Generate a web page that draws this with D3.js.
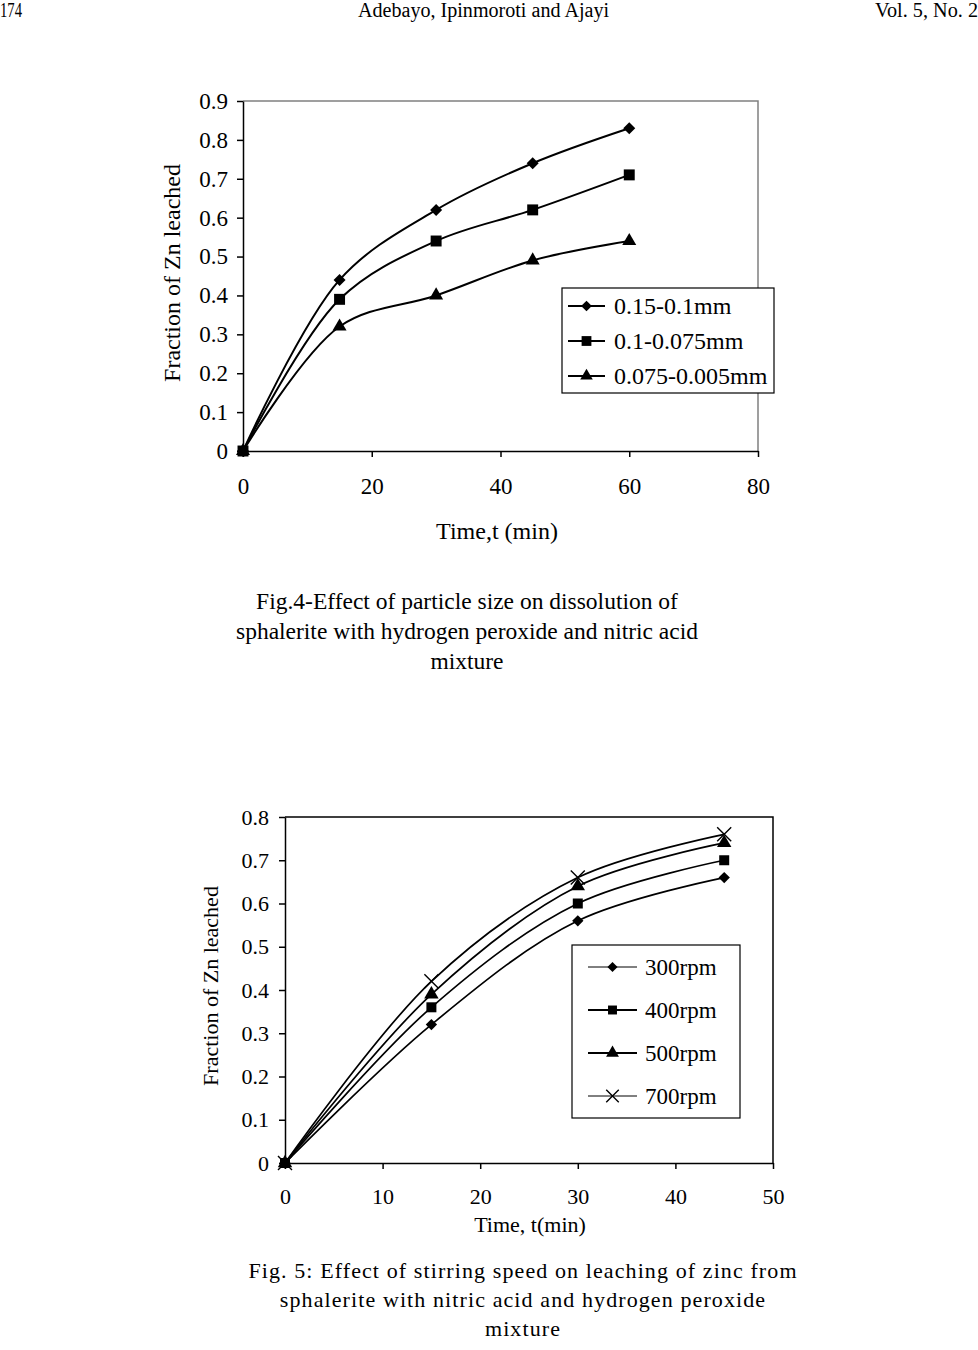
<!DOCTYPE html>
<html lang="en">
<head>
<meta charset="UTF-8">
<title>Zn leaching figures</title>
<style>
  body { margin: 0; background: #fff; }
  text { font-family: "Liberation Serif", "Times New Roman", serif; fill: #000; }
</style>
</head>
<body>
<div id="page"></div>
<script src="https://d3js.org/d3.v7.min.js"></script>
<script>
// Fig. 4 - particle size
const fig4Time = [0, 15, 30, 45, 60];
const fig4Names = ["0.15-0.1mm", "0.1-0.075mm", "0.075-0.005mm"];
const fig4Coarse = [0, 0.44, 0.62, 0.74, 0.83];
const fig4Medium = [0, 0.39, 0.54, 0.62, 0.71];
const fig4Fine = [0, 0.32, 0.40, 0.49, 0.54];
const fig4XTicks = ["0", "20", "40", "60", "80"];
const fig4YTicks = ["0", "0.1", "0.2", "0.3", "0.4", "0.5", "0.6", "0.7", "0.8", "0.9"];

// Fig. 5 - stirring speed
const fig5Time = [0, 15, 30, 45];
const fig5Names = ["300rpm", "400rpm", "500rpm", "700rpm"];
const fig5Rpm300 = [0, 0.32, 0.56, 0.66];
const fig5Rpm400 = [0, 0.36, 0.60, 0.70];
const fig5Rpm500 = [0, 0.39, 0.64, 0.74];
const fig5Rpm700 = [0, 0.42, 0.66, 0.76];
const fig5XTicks = ["0", "10", "20", "30", "40", "50"];
const fig5YTicks = ["0", "0.1", "0.2", "0.3", "0.4", "0.5", "0.6", "0.7", "0.8"];

const svg = d3.select("#page").append("svg")
    .attr("width", 978)
    .attr("height", 1350);

// running header
svg.append("text").attr("x", 0).attr("y", 17).style("font-size", "20px")
    .attr("textLength", 22).attr("lengthAdjust", "spacingAndGlyphs").text("174");
svg.append("text").attr("x", 358).attr("y", 17).style("font-size", "20px")
    .attr("textLength", 251).attr("lengthAdjust", "spacingAndGlyphs").text("Adebayo, Ipinmoroti and Ajayi");
svg.append("text").attr("x", 875).attr("y", 17).style("font-size", "20px")
    .attr("textLength", 103).attr("lengthAdjust", "spacingAndGlyphs").text("Vol. 5, No. 2");

function marker(g, type, cx, cy, size) {
    const sym = {
        diamond: d3.symbolSquare,
        square: d3.symbolSquare,
        triangle: d3.symbolTriangle,
        cross: d3.symbolX
    }[type];
    const rot = type === "diamond" ? " rotate(45)" : "";
    const p = g.append("path")
        .attr("transform", `translate(${cx},${cy})${rot}`)
        .attr("d", d3.symbol().type(sym).size(size)());
    if (type === "cross") p.attr("fill", "none").attr("stroke", "#000").attr("stroke-width", 1.4);
    else p.attr("fill", "#000");
}

function drawChart(cfg) {
    const g = svg.append("g");
    const xVals = cfg.xTicks.map(Number);
    const yVals = cfg.yTicks.map(Number);
    const x = d3.scaleLinear().domain([0, d3.max(xVals)]).range([cfg.left, cfg.right]);
    const y = d3.scaleLinear().domain([0, d3.max(yVals)]).range([cfg.bottom, cfg.top]);

    // top / right frame
    g.append("path")
        .attr("d", `M${cfg.left},${cfg.top}H${cfg.right}V${cfg.bottom}`)
        .attr("fill", "none")
        .attr("stroke", cfg.frameColor)
        .attr("stroke-width", 1.5);

    const yAxis = g.append("g")
        .attr("transform", `translate(${cfg.left},0)`)
        .call(d3.axisLeft(y).tickValues(yVals).tickFormat((d, i) => cfg.yTicks[i])
            .tickSize(6).tickSizeOuter(0).tickPadding(cfg.yPad));
    const xAxis = g.append("g")
        .attr("transform", `translate(0,${cfg.bottom})`)
        .call(d3.axisBottom(x).tickValues(xVals).tickFormat((d, i) => cfg.xTicks[i])
            .tickSize(6).tickSizeOuter(0).tickPadding(cfg.xPad));
    [xAxis, yAxis].forEach(a => {
        a.selectAll("path, line").attr("stroke", "#000").attr("stroke-width", 1.5);
        a.selectAll("text").style("font-size", cfg.tickFont + "px").attr("fill", "#000");
    });

    // axis titles
    g.append("text")
        .attr("transform", `translate(${cfg.yTitleX},${(cfg.top + cfg.bottom) / 2 + cfg.yTitleShift}) rotate(-90)`)
        .attr("text-anchor", "middle")
        .attr("dy", "0.35em")
        .style("font-size", cfg.titleFont + "px")
        .text("Fraction of Zn leached");
    g.append("text")
        .attr("x", cfg.xTitleX).attr("y", cfg.xTitleY)
        .attr("text-anchor", "middle")
        .style("font-size", cfg.titleFont + "px")
        .text(cfg.xTitle);

    // series
    const line = d3.line()
        .x((d, i) => x(cfg.time[i]))
        .y(d => y(d))
        .curve(d3.curveCatmullRom.alpha(0.5));
    cfg.series.forEach((s, k) => {
        g.append("path")
            .attr("d", line(s))
            .attr("fill", "none")
            .attr("stroke", "#000")
            .attr("stroke-width", cfg.lineWidth);
    });
    cfg.series.forEach((s, k) => {
        s.forEach((v, i) => marker(g, cfg.markers[k], x(cfg.time[i]), y(v), cfg.markerSizes[k]));
    });

    // legend
    const L = cfg.legend;
    g.append("rect")
        .attr("x", L.x).attr("y", L.y).attr("width", L.w).attr("height", L.h)
        .attr("fill", "#fff").attr("stroke", "#000").attr("stroke-width", 1.2);
    cfg.names.forEach((name, k) => {
        const ry = L.y + L.first + k * L.step;
        g.append("line")
            .attr("x1", L.x + L.lineStart).attr("x2", L.x + L.lineEnd)
            .attr("y1", ry).attr("y2", ry)
            .attr("stroke", "#000").attr("stroke-width", L.lineWidths[k]);
        marker(g, cfg.markers[k], L.x + (L.lineStart + L.lineEnd) / 2, ry, cfg.markerSizes[k] * 0.8);
        g.append("text")
            .attr("x", L.x + L.textX).attr("y", ry).attr("dy", "0.35em")
            .style("font-size", L.font + "px")
            .text(name);
    });

    // caption
    cfg.caption.forEach((c, i) => {
        g.append("text")
            .attr("x", cfg.captionX).attr("y", cfg.captionY + i * cfg.captionStep)
            .attr("text-anchor", "middle")
            .style("font-size", cfg.captionFont + "px")
            .style("letter-spacing", cfg.captionSpacing + "px")
            .text(c);
    });
}

drawChart({
    time: fig4Time, names: fig4Names, series: [fig4Coarse, fig4Medium, fig4Fine],
    xTicks: fig4XTicks, yTicks: fig4YTicks,
    left: 243, right: 758, top: 101, bottom: 451,
    frameColor: "#808080", yPad: 9, xPad: 21, tickFont: 23,
    titleFont: 24, yTitleX: 172, yTitleShift: -3, xTitleX: 497, xTitleY: 539, xTitle: "Time,t (min)",
    lineWidth: 2, markers: ["diamond", "square", "triangle"], markerSizes: [72, 120, 85],
    legend: { x: 562, y: 288, w: 212, h: 105, first: 18, step: 35, lineStart: 6, lineEnd: 43,
        textX: 52, font: 24, lineWidths: [2, 2, 2] },
    caption: ["Fig.4-Effect of particle size on dissolution of",
        "sphalerite with hydrogen peroxide and nitric acid", "mixture"],
    captionX: 467, captionY: 609, captionStep: 30, captionFont: 23.5, captionSpacing: 0
});

drawChart({
    time: fig5Time, names: fig5Names, series: [fig5Rpm300, fig5Rpm400, fig5Rpm500, fig5Rpm700],
    xTicks: fig5XTicks, yTicks: fig5YTicks,
    left: 285, right: 773, top: 817, bottom: 1163,
    frameColor: "#000", yPad: 10, xPad: 19, tickFont: 22,
    titleFont: 22, yTitleX: 210, yTitleShift: -4, xTitleX: 530, xTitleY: 1232, xTitle: "Time, t(min)",
    lineWidth: 1.7, markers: ["diamond", "square", "triangle", "cross"], markerSizes: [64, 100, 90, 130],
    legend: { x: 572, y: 945, w: 168, h: 173, first: 22, step: 43, lineStart: 16, lineEnd: 65,
        textX: 73, font: 23, lineWidths: [1, 2, 2, 1] },
    caption: ["Fig. 5: Effect of stirring speed on leaching of zinc from",
        "sphalerite with nitric acid and hydrogen peroxide", "mixture"],
    captionX: 523, captionY: 1278, captionStep: 29, captionFont: 22, captionSpacing: 1.1
});
</script>
</body>
</html>
